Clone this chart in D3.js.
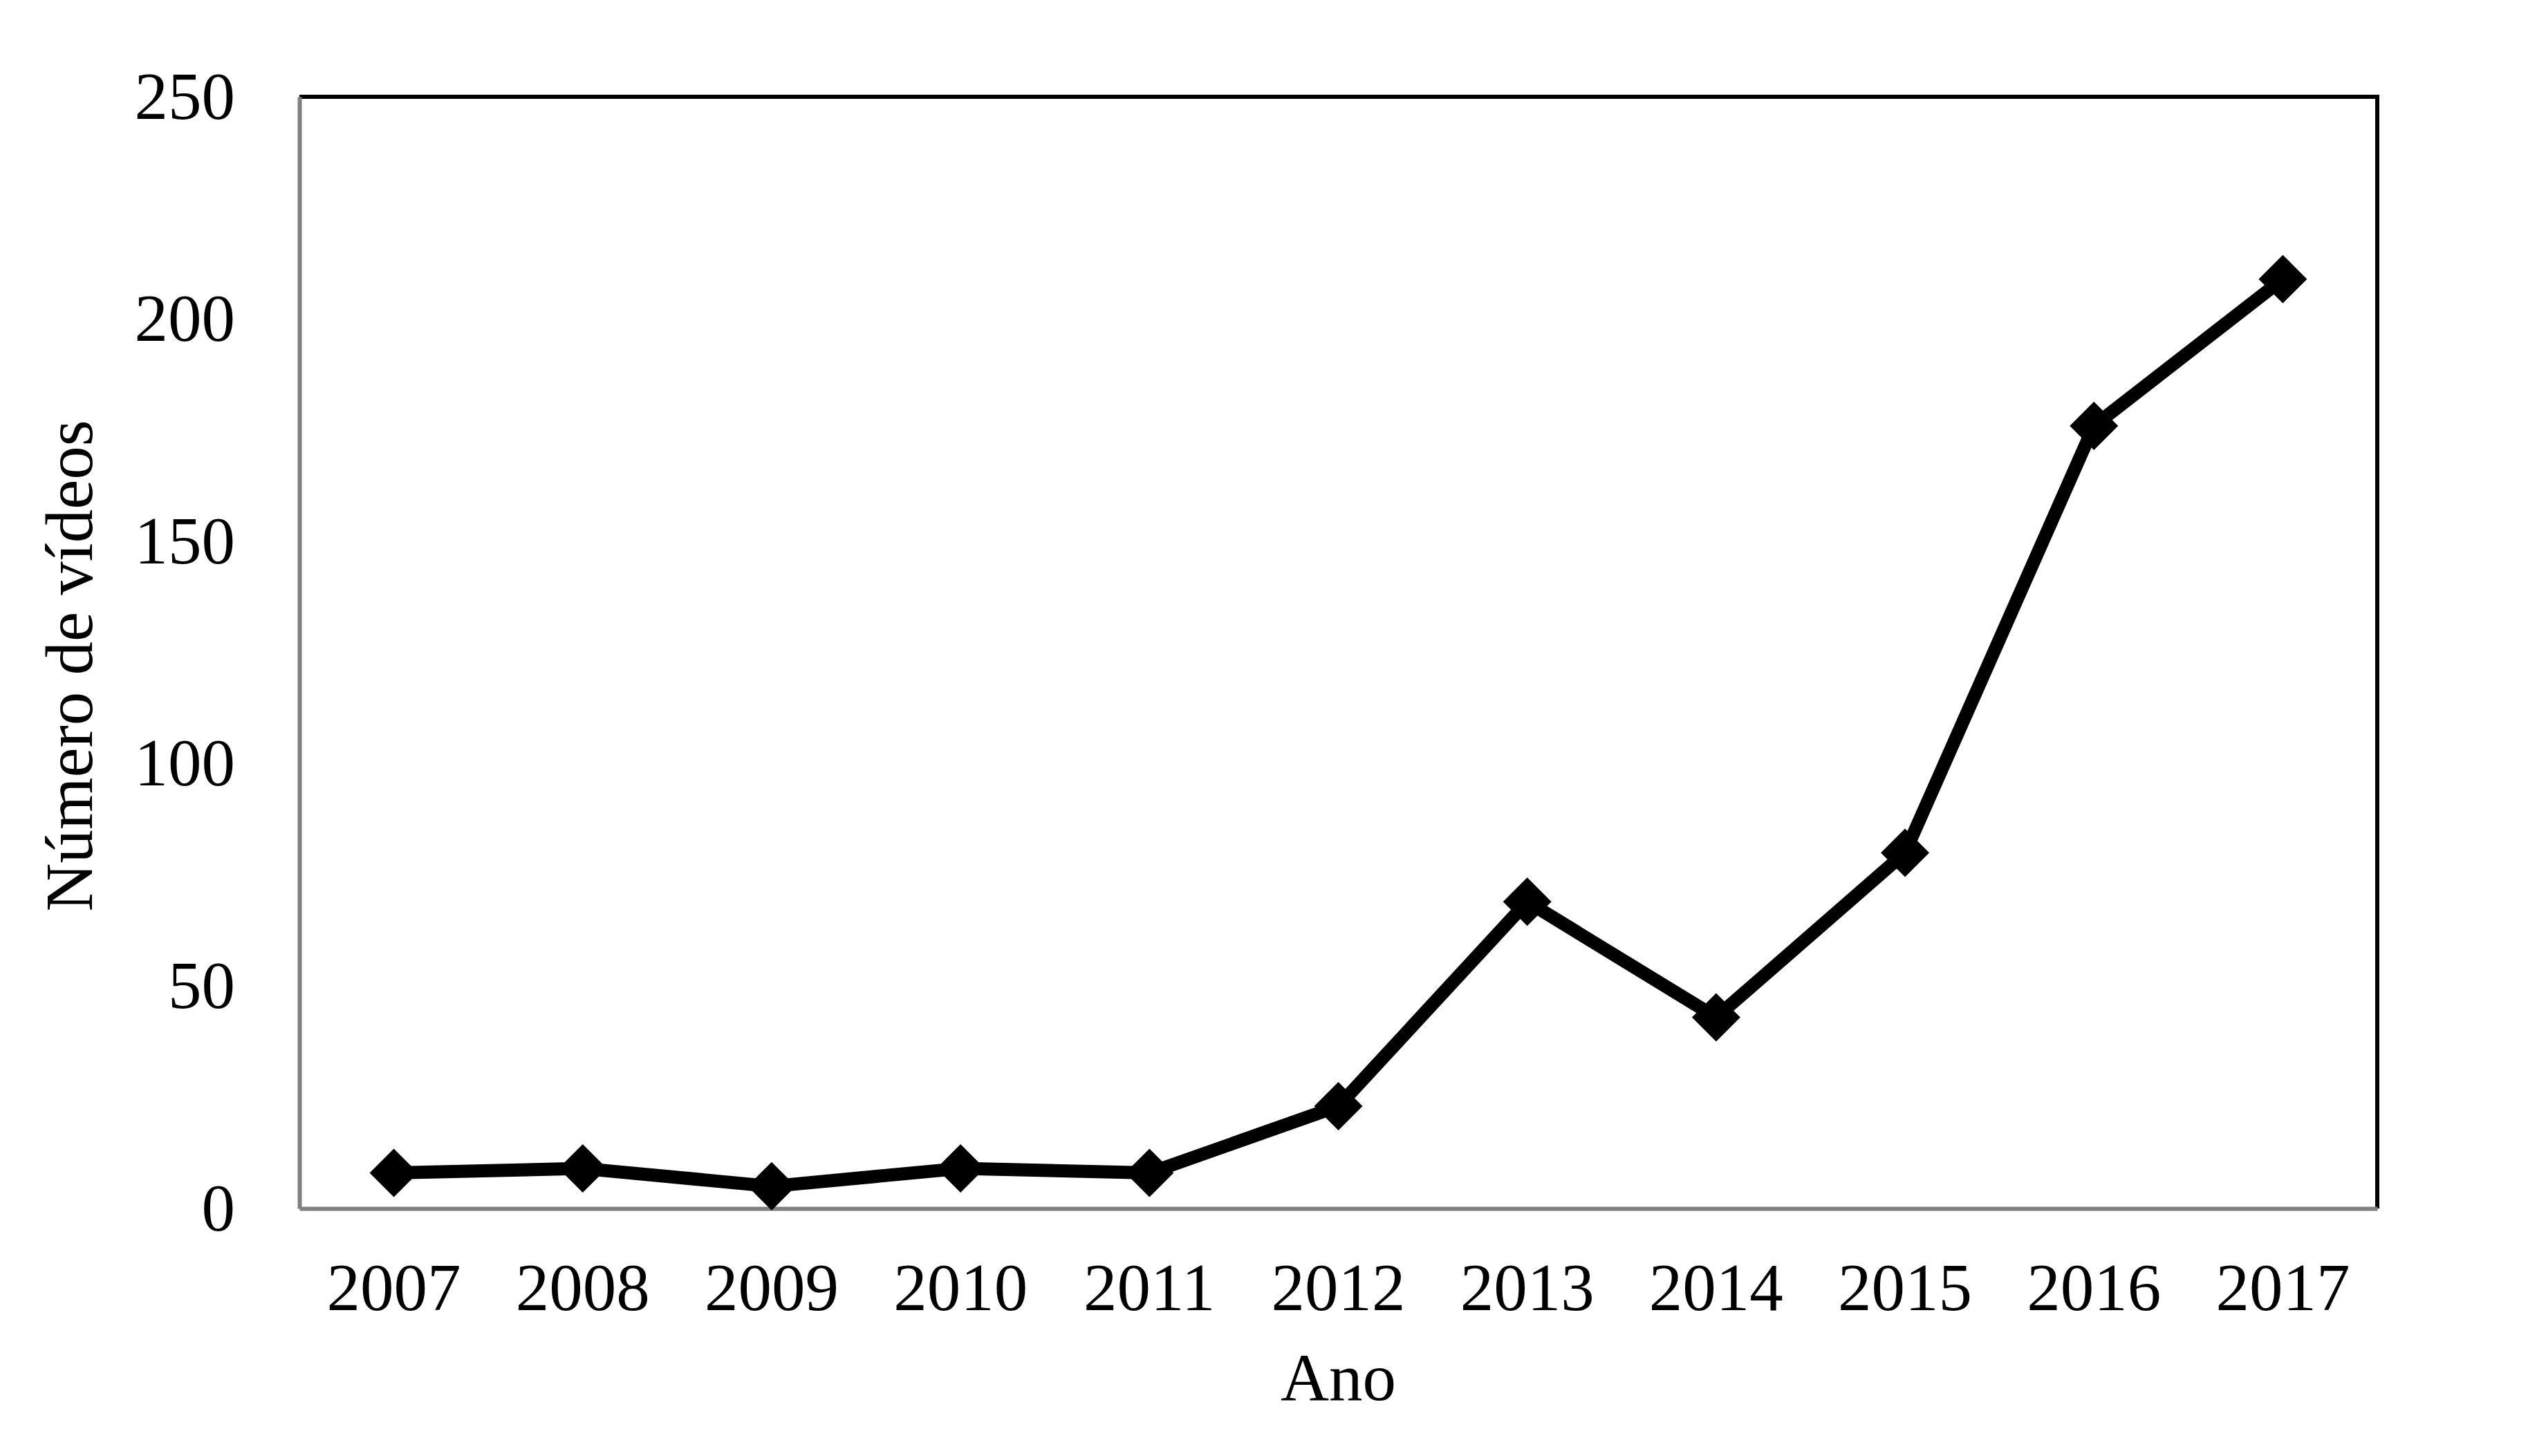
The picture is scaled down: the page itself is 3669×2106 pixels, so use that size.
<!DOCTYPE html>
<html>
<head>
<meta charset="utf-8">
<script src="https://cdn.jsdelivr.net/npm/d3@7"></script>
<style>
  html, body { margin: 0; padding: 0; background: #ffffff; }
  svg { display: block; }
  text { font-family: "Liberation Serif", "Times New Roman", serif; fill: #000; }
</style>
</head>
<body>
<svg id="chart" width="3669" height="2106"></svg>
<script>
const years = ["2007","2008","2009","2010","2011","2012","2013","2014","2015","2016","2017"];
const videos = [8, 9, 5, 9, 8, 23, 69, 43, 80, 176, 209];
const yTicks = [0, 50, 100, 150, 200, 250];
const xTitle = "Ano";
const yTitle = "Número de vídeos";

const W = 3669, H = 2106;
const margin = { left: 433, right: W - 3438, top: 140, bottom: H - 1748 };
const svg = d3.select("#chart");
svg.append("rect").attr("width", W).attr("height", H).attr("fill", "#fff");

const x = d3.scaleBand().domain(years).range([margin.left, W - margin.right]).padding(0);
const y = d3.scaleLinear().domain([0, 250]).range([H - margin.bottom, margin.top]);

const fs = 97;

// Top and right frame (black)
svg.append("path")
  .attr("d", `M${x.range()[0]},${y(250)}H${x.range()[1]}V${y(0)}`)
  .attr("fill", "none").attr("stroke", "#000").attr("stroke-width", 6);

// Left axis
const gy = svg.append("g").attr("transform", `translate(${x.range()[0]},0)`)
  .call(d3.axisLeft(y).tickValues(yTicks).tickSize(0).tickPadding(93).tickFormat(d3.format("d")));
gy.select(".domain").attr("stroke", "#808080").attr("stroke-width", 6);
gy.selectAll("text").attr("font-size", fs).attr("dy", "0.32em")
  .style("font-family", "'Liberation Serif', 'Times New Roman', serif").attr("fill", "#000");

// Bottom axis
const gx = svg.append("g").attr("transform", `translate(0,${y(0)})`)
  .call(d3.axisBottom(x).tickSize(0).tickPadding(0));
gx.select(".domain").attr("stroke", "#808080").attr("stroke-width", 6);
gx.selectAll("text").attr("font-size", fs).attr("y", 147).attr("dy", "0")
  .style("font-family", "'Liberation Serif', 'Times New Roman', serif").attr("fill", "#000");

// Line
const cx = d => x(d.year) + x.bandwidth() / 2;
const data = years.map((yr, i) => ({ year: yr, value: videos[i] }));
svg.append("path").datum(data)
  .attr("d", d3.line().x(cx).y(d => y(d.value)))
  .attr("fill", "none").attr("stroke", "#000").attr("stroke-width", 19)
  .attr("stroke-linejoin", "round");

// Diamond markers
svg.append("g").selectAll("path").data(data).join("path")
  .attr("d", d3.symbol().type(d3.symbolSquare).size(2450))
  .attr("transform", d => `translate(${cx(d)},${y(d.value)}) rotate(45)`)
  .attr("fill", "#000");

// Axis titles
svg.append("text").attr("x", (x.range()[0] + x.range()[1]) / 2).attr("y", 2025)
  .attr("text-anchor", "middle").attr("font-size", fs).text(xTitle);
svg.append("text").attr("transform", "translate(133,963) rotate(-90)")
  .attr("text-anchor", "middle").attr("font-size", fs).text(yTitle);
</script>
</body>
</html>
